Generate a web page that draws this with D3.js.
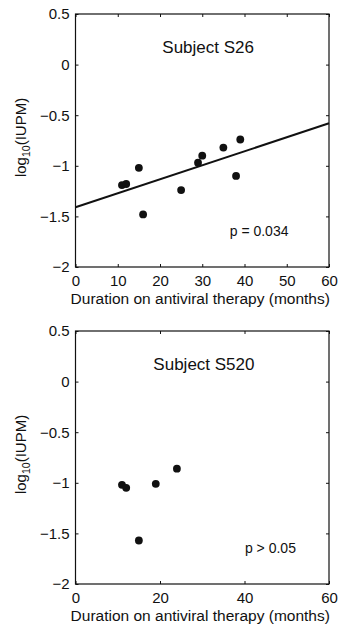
<!DOCTYPE html>
<html>
<head>
<meta charset="utf-8">
<script src="https://cdn.jsdelivr.net/npm/d3@7"></script>
<style>
  body { margin: 0; background: #fff; }
  text { font-family: "Liberation Sans", Arial, sans-serif; fill: #111; }
</style>
</head>
<body>
<svg width="338" height="625"></svg>
<script>
// subject S26
var s26Months = [11, 12, 15, 16, 25, 29, 30, 35, 38, 39];
var s26Log = [-1.19, -1.18, -1.02, -1.48, -1.24, -0.97, -0.90, -0.82, -1.10, -0.74];
var s26Fit = [[0, -1.41], [60, -0.58]];

// subject S520
var s520Months = [11, 12, 15, 19, 24];
var s520Log = [-1.02, -1.05, -1.57, -1.01, -0.86];

var yTicks = [-2, -1.5, -1, -0.5, 0, 0.5];
var yTickLabels = ["\u22122", "\u22121.5", "\u22121", "\u22120.5", "0", "0.5"];
var xTicksTop = [0, 10, 20, 30, 40, 50, 60];
var xTicksBottom = [0, 20, 40, 60];

var svg = d3.select("svg");

function panel(top, months, logs, fit, xTicks, title, titleX, pText, pX) {
  var x = d3.scaleLinear().domain([0, 60]).range([75.5, 329]),
      y = d3.scaleLinear().domain([-2, 0.5]).range([top + 253, top]);

  var g = svg.append("g");

  // box
  g.append("rect")
      .attr("x", x(0)).attr("y", y(0.5))
      .attr("width", x(60) - x(0)).attr("height", y(-2) - y(0.5))
      .attr("fill", "none").attr("stroke", "#111").attr("stroke-width", 1.2);

  // inward ticks on all sides
  var xb = g.append("g").attr("transform", "translate(0," + y(-2) + ")")
      .call(d3.axisBottom(x).tickValues(xTicks).tickSizeInner(-3).tickSizeOuter(0).tickPadding(6));
  var xt = g.append("g").attr("transform", "translate(0," + y(0.5) + ")")
      .call(d3.axisTop(x).tickValues(xTicks).tickSizeInner(-3).tickSizeOuter(0).tickFormat(""));
  var yl = g.append("g").attr("transform", "translate(" + x(0) + ",0)")
      .call(d3.axisLeft(y).tickValues(yTicks).tickSizeInner(-3).tickSizeOuter(0).tickPadding(6)
        .tickFormat(function(d, i) { return yTickLabels[i]; }));
  var yr = g.append("g").attr("transform", "translate(" + x(60) + ",0)")
      .call(d3.axisRight(y).tickValues(yTicks).tickSizeInner(-3).tickSizeOuter(0).tickFormat(""));

  [xb, xt, yl, yr].forEach(function(a) {
    a.select(".domain").remove();
    a.selectAll("line").attr("stroke", "#111");
    a.selectAll("text").style("font-size", "15px").attr("fill", "#111");
  });
  xb.selectAll("text").attr("dy", "0.85em");

  if (fit) {
    g.append("line")
        .attr("x1", x(fit[0][0])).attr("y1", y(fit[0][1]))
        .attr("x2", x(fit[1][0])).attr("y2", y(fit[1][1]))
        .attr("stroke", "#111").attr("stroke-width", 2);
  }

  g.selectAll(".dot")
    .data(months)
    .enter().append("circle")
      .attr("class", "dot")
      .attr("cx", function(d) { return x(d); })
      .attr("cy", function(d, i) { return y(logs[i]); })
      .attr("r", 3.9)
      .attr("fill", "#111");

  g.append("text")
      .attr("x", x(titleX)).attr("y", y(0.5) + 39)
      .attr("text-anchor", "middle")
      .style("font-size", "17px")
      .text(title);

  g.append("text")
      .attr("x", x(pX)).attr("y", y(-1.65) + 4)
      .style("font-size", "14px")
      .text(pText);

  g.append("text")
      .attr("x", (x(0) + x(60)) / 2 - 2).attr("y", y(-2) + 37)
      .attr("text-anchor", "middle")
      .style("font-size", "15.5px")
      .text("Duration on antiviral therapy (months)");

  var lab = g.append("text")
      .attr("transform", "translate(26," + (y(-0.72)) + ") rotate(-90)")
      .attr("text-anchor", "middle")
      .style("font-size", "15px");
  lab.append("tspan").text("log");
  lab.append("tspan").attr("dy", 4).style("font-size", "10.5px").text("10");
  lab.append("tspan").attr("dy", -4).text("(IUPM)");
}

panel(14, s26Months, s26Log, s26Fit, xTicksTop, "Subject S26", 31.4, "p = 0.034", 36.5);
panel(331, s520Months, s520Log, null, xTicksBottom, "Subject S520", 30.4, "p > 0.05", 40.1);
</script>
</body>
</html>
